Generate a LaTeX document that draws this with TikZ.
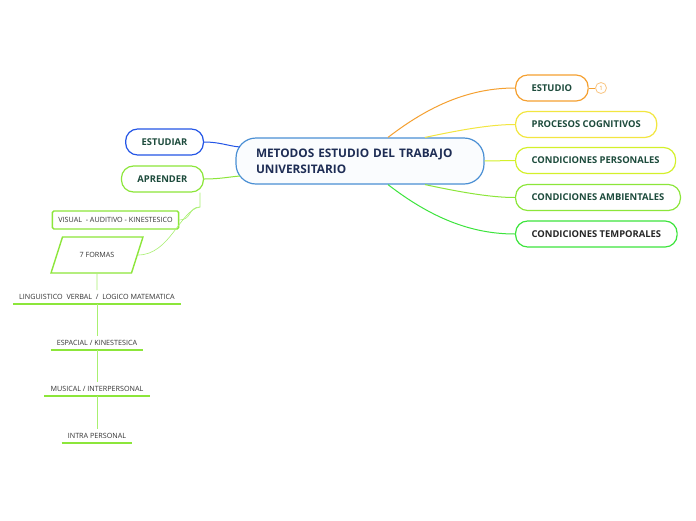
\documentclass[tikz,border=0pt]{standalone}
\usepackage{fontspec}
\setmainfont{Open Sans}
\usetikzlibrary{shapes.geometric}
\definecolor{azul}{HTML}{4A8FD4}
\definecolor{azulfuerte}{HTML}{2455E6}
\definecolor{naranja}{HTML}{F5A030}
\definecolor{amarillo}{HTML}{F2E640}
\definecolor{lima}{HTML}{D4F02A}
\definecolor{verdeclaro}{HTML}{8CE63A}
\definecolor{verde}{HTML}{3CE43C}
\definecolor{verdelinea}{HTML}{A8F070}
\definecolor{textoverde}{HTML}{1D4B3C}
\definecolor{marino}{HTML}{1E2D55}
\tikzset{
  pill/.style={draw, line width=1.2pt, rounded corners=12pt, minimum height=26pt,
    inner xsep=16pt, anchor=west, font=\fontsize{9.4}{11}\selectfont\bfseries, text=textoverde},
  rama/.style={font=\fontsize{7.2}{8}\selectfont, inner xsep=6pt, inner ysep=4pt, text=black!80},
  linea/.style={line width=1pt}
}
\begin{document}
\begin{tikzpicture}[x=1pt,y=-1pt]
\fill[white] (0,0) rectangle (696,520);
\useasboundingbox (0,0) rectangle (696,520);
% nodo central
\node[draw=azul, fill=azul!3, line width=1.2pt, rounded corners=20pt, minimum height=46pt,
  minimum width=248pt, inner xsep=20pt, text width=208pt, align=left,
  font=\fontsize{11.8}{16}\selectfont\bfseries, text=marino] (main) at (360,161)
  {METODOS ESTUDIO DEL TRABAJO\\UNIVERSITARIO};
% derecha
\node[pill, draw=naranja] (estudio) at (515,88) {ESTUDIO};
\node[pill, draw=amarillo] (procesos) at (515,124.5) {PROCESOS COGNITIVOS};
\node[pill, draw=lima] (personales) at (515,160.5) {CONDICIONES PERSONALES};
\node[pill, draw=verdeclaro] (ambientales) at (515,197.5) {CONDICIONES AMBIENTALES};
\node[pill, draw=verde, text=black!85] (temporales) at (515,234) {CONDICIONES TEMPORALES};
\node[circle, draw=naranja!60, line width=0.8pt, inner sep=0pt, minimum size=11pt,
  font=\fontsize{6}{6}\selectfont, text=naranja] (uno) at (601,88) {1};
\draw[naranja, linea] (estudio.east) -- (uno.west);
\draw[naranja, linea] ([xshift=28pt]main.north) .. controls (430,105) and (470,88) .. (estudio.west);
\draw[amarillo, linea] ([xshift=65pt]main.north) .. controls (460,130) and (490,124.5) .. (procesos.west);
\draw[lima, linea] (main.east) -- (personales.west);
\draw[verdeclaro, linea] ([xshift=65pt]main.south) .. controls (460,192) and (490,197.5) .. (ambientales.west);
\draw[verde, linea] ([xshift=28pt]main.south) .. controls (430,217) and (470,234) .. (temporales.west);
% izquierda
\node[pill, draw=azulfuerte, anchor=east] (estudiar) at (204,142) {ESTUDIAR};
\node[pill, draw=verdeclaro, anchor=east] (aprender) at (204,179) {APRENDER};
\draw[azulfuerte, linea] (estudiar.east) .. controls (220,142) and (228,146) .. (240,147);
\draw[verdeclaro, linea] (aprender.east) .. controls (220,179) and (228,177) .. (240,176);
\node[draw=verdeclaro, line width=1.4pt, rounded corners=1.5pt, minimum height=18pt,
  inner xsep=6pt, font=\fontsize{7.2}{8}\selectfont, text=black!80] (visual) at (115.5,220)
  {VISUAL \ - AUDITIVO - KINESTESICO};
\node[trapezium, trapezium left angle=60, trapezium right angle=120, trapezium stretches=true,
  draw=verdeclaro, line width=1.4pt, minimum width=92pt, minimum height=36pt,
  font=\fontsize{7.2}{8}\selectfont, text=black!80] (formas) at (97,255) {7 FORMAS};
\coordinate (codo) at (200,207);
\draw[verdelinea, line width=0.6pt] ([xshift=-4pt]aprender.south east) -- (codo)
  .. controls (188,207) and (192,220) .. (visual.east);
\draw[verdelinea, line width=0.6pt] (codo) .. controls (180,210) and (170,255) .. (formas.east);
% siete formas
\node[rama] (ling) at (97,297) {LINGUISTICO \ VERBAL \ / \ LOGICO MATEMATICA};
\node[rama] (esp) at (97,343) {ESPACIAL / KINESTESICA};
\node[rama] (mus) at (97,389) {MUSICAL / INTERPERSONAL};
\node[rama] (intra) at (97,436) {INTRA PERSONAL};
\draw[verdeclaro, line width=1.8pt] (ling.south west) -- (ling.south east);
\draw[verdeclaro, line width=1.8pt] (esp.south west) -- (esp.south east);
\draw[verdeclaro, line width=1.8pt] (mus.south west) -- (mus.south east);
\draw[verdeclaro, line width=1.8pt] (intra.south west) -- (intra.south east);
\draw[verdelinea, line width=0.6pt] (formas.south) -- (ling.north);
\draw[verdelinea, line width=0.6pt] (ling.south) -- (esp.north);
\draw[verdelinea, line width=0.6pt] (esp.south) -- (mus.north);
\draw[verdelinea, line width=0.6pt] (mus.south) -- (intra.north);
\end{tikzpicture}
\end{document}
